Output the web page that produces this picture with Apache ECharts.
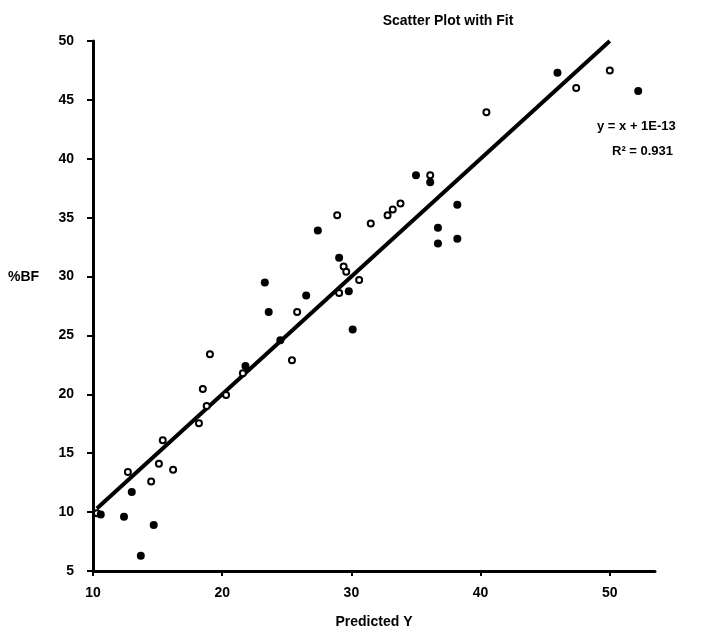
<!DOCTYPE html>
<html>
<head>
<meta charset="utf-8">
<script src="https://cdn.jsdelivr.net/npm/echarts@6/dist/echarts.min.js"></script>
<style>html,body{margin:0;padding:0;background:#fff}#c{width:708px;height:634px}</style>
</head>
<body>
<div id="c"></div>
<script>
// Data
const filledX = [10.6, 12.4, 13.0, 13.7, 14.7, 21.8, 23.3, 23.6, 24.5, 26.5, 27.4, 29.05, 29.8, 30.1, 35.0, 36.1, 36.7, 36.7, 38.2, 38.2, 45.95, 52.2];
const filledY = [9.8, 9.6, 11.7, 6.3, 8.9, 22.4, 29.5, 27.0, 24.6, 28.4, 33.9, 31.6, 28.75, 25.5, 38.6, 38.0, 34.15, 32.8, 36.1, 33.2, 47.3, 45.75];
const openX = [10.3, 12.7, 14.5, 15.1, 15.4, 16.2, 18.2, 18.5, 18.8, 19.05, 20.3, 21.6, 25.4, 25.8, 28.9, 29.05, 29.4, 29.6, 30.6, 31.5, 32.8, 33.2, 33.8, 36.1, 40.45, 47.4, 50.0];
const openY = [9.9, 13.4, 12.6, 14.1, 16.1, 13.6, 17.55, 20.45, 19.0, 23.4, 19.95, 21.8, 22.9, 27.0, 35.2, 28.6, 30.85, 30.4, 29.7, 34.5, 35.2, 35.7, 36.2, 38.6, 43.95, 46.0, 47.5];
const fitX = [10.3, 50.0];
const fitSlope = 1;
const fitIntercept = 1e-13;
const xTicks = [10, 20, 30, 40, 50];
const titleText = 'Scatter Plot with Fit';
const yName = '%BF';
const xName = 'Predicted Y';
const eqText = 'y = x + 1E-13';
const r2Text = 'R\u00B2 = 0.931';

const zip = (a, b) => a.map((v, i) => [v, b[i]]);
const fitData = fitX.map(x => [x, fitSlope * x + fitIntercept]);
const font = '"Liberation Sans", Arial, sans-serif';

const chart = echarts.init(document.getElementById('c'), null, {renderer: 'canvas'});
chart.setOption({
  animation: false,
  backgroundColor: '#fff',
  title: {
    text: titleText, left: 443, top: 9, textAlign: 'center',
    textStyle: {fontFamily: font, fontWeight: 'bold', fontSize: 14, color: '#000'}
  },
  grid: {left: 93, right: 53, top: 41, bottom: 63},
  xAxis: {
    type: 'value', min: 10, max: 53.5,
    name: xName, nameLocation: 'middle', nameGap: 44,
    nameTextStyle: {fontFamily: font, fontWeight: 'bold', fontSize: 14, color: '#000'},
    axisLine: {lineStyle: {color: '#000', width: 3}},
    axisTick: {show: true, length: 5, lineStyle: {color: '#000', width: 2}, customValues: xTicks},
    axisLabel: {customValues: xTicks, margin: 15, fontFamily: font, fontWeight: 'bold', fontSize: 14, color: '#000'},
    splitLine: {show: false}
  },
  yAxis: {
    type: 'value', min: 5, max: 50, interval: 5,
    axisLine: {show: true, lineStyle: {color: '#000', width: 3}},
    axisTick: {show: true, length: 6, lineStyle: {color: '#000', width: 2}},
    axisLabel: {margin: 19, fontFamily: font, fontWeight: 'bold', fontSize: 14, color: '#000'},
    splitLine: {show: false}
  },
  series: [
    {
      type: 'line', data: fitData, symbol: 'none', z: 2,
      lineStyle: {color: '#000', width: 4}
    },
    {
      type: 'scatter', data: zip(openX, openY), symbol: 'circle', symbolSize: 6, z: 3,
      itemStyle: {color: '#fff', borderColor: '#000', borderWidth: 2, opacity: 1}
    },
    {
      type: 'scatter', data: zip(filledX, filledY), symbol: 'circle', symbolSize: 8, z: 4,
      itemStyle: {color: '#000', opacity: 1}
    }
  ],
  graphic: [
    {type: 'text', left: 8, top: 270, style: {text: yName, font: 'bold 14px ' + font, fill: '#000'}},
    {type: 'text', left: 597, top: 120, style: {text: eqText, font: 'bold 13px ' + font, fill: '#000'}},
    {type: 'text', left: 612, top: 145, style: {text: r2Text, font: 'bold 13px ' + font, fill: '#000'}}
  ]
});
</script>
</body>
</html>
